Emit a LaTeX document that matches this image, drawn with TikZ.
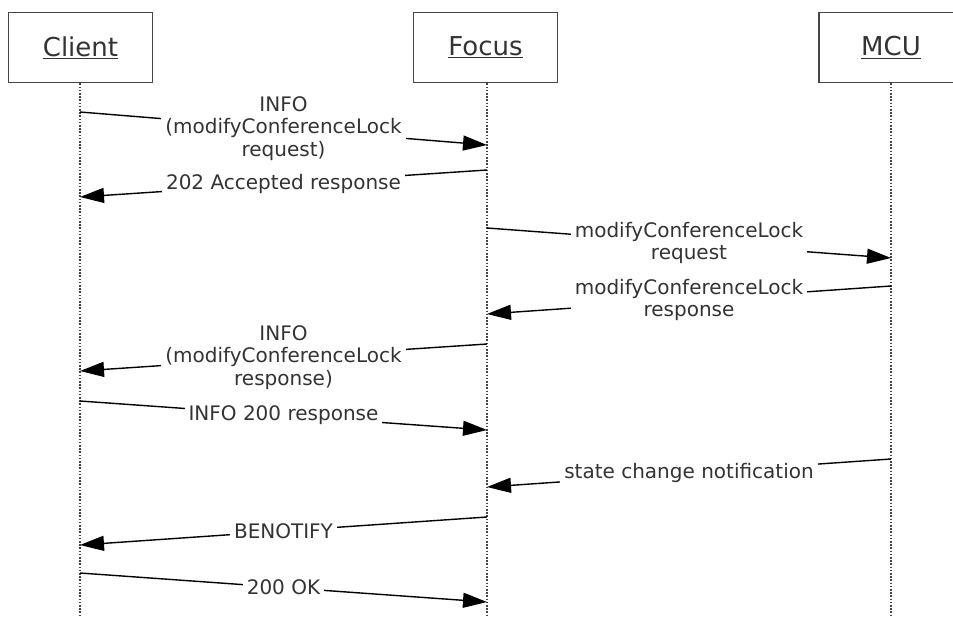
\documentclass[tikz,border=0pt]{standalone}
\usepackage{fontspec}
\setmainfont{DejaVu Sans}
\usetikzlibrary{arrows.meta}
\definecolor{boxgray}{HTML}{454545}
\definecolor{txtgray}{HTML}{333333}
\tikzset{
  actor/.style={draw=boxgray, line width=1.8pt, fill=white,
    minimum width=144pt, minimum height=70pt,
    font=\fontsize{26}{30}\selectfont, text=txtgray},
  lifeline/.style={draw=boxgray, line width=1.6pt, dash pattern=on 1.6pt off 1.6pt},
  msg/.style={line width=1.4pt, -{Triangle[length=24pt,width=15pt]}},
  msglabel/.style={fill=white, inner sep=4pt, align=center, text=txtgray,
    font=\fontsize{20}{22.5}\selectfont},
}

\begin{document}
\begin{tikzpicture}[x=1pt, y=-1pt]
  \useasboundingbox (0,0) rectangle (953,616);
  % participants
  \node[actor] (client) at (80.5,47.5) {\underline{Client}};
  \node[actor] (focus) at (485.5,47.5) {\underline{Focus}};
  \node[actor] (mcu) at (891,47.5) {\underline{MCU}};
  % lifelines
  \coordinate (client end) at (80,616);
  \coordinate (focus end) at (487,616);
  \coordinate (mcu end) at (891,616);
  \draw[lifeline] (client.south -| client end) -- (client end);
  \draw[lifeline] (focus.south -| focus end) -- (focus end);
  \draw[lifeline] (mcu.south -| mcu end) -- (mcu end);
  % points on the lifelines
  \path (client end |- 0,112) coordinate (c1) (focus end |- 0,145) coordinate (f1)
        (focus end |- 0,170) coordinate (f2) (client end |- 0,197) coordinate (c2)
        (focus end |- 0,228) coordinate (f3) (mcu end |- 0,258) coordinate (m3)
        (mcu end |- 0,286) coordinate (m4) (focus end |- 0,314) coordinate (f4)
        (focus end |- 0,344) coordinate (f5) (client end |- 0,371) coordinate (c5)
        (client end |- 0,401) coordinate (c6) (focus end |- 0,430) coordinate (f6)
        (mcu end |- 0,459) coordinate (m7) (focus end |- 0,487) coordinate (f7)
        (focus end |- 0,517) coordinate (f8) (client end |- 0,545) coordinate (c8)
        (client end |- 0,573) coordinate (c9) (focus end |- 0,602) coordinate (f9);
  % messages
  \draw[msg] (c1) -- node[msglabel] {INFO\\(modifyConferenceLock\\request)} (f1);
  \draw[msg] (f2) -- node[msglabel] {202 Accepted response} (c2);
  \draw[msg] (f3) -- node[msglabel] {modifyConferenceLock\\request} (m3);
  \draw[msg] (m4) -- node[msglabel] {modifyConferenceLock\\response} (f4);
  \draw[msg] (f5) -- node[msglabel] {INFO\\(modifyConferenceLock\\response)} (c5);
  \draw[msg] (c6) -- node[msglabel] {INFO 200 response} (f6);
  \draw[msg] (m7) -- node[msglabel] {state change notification} (f7);
  \draw[msg] (f8) -- node[msglabel] {BENOTIFY} (c8);
  \draw[msg] (c9) -- node[msglabel] {200 OK} (f9);
\end{tikzpicture}
\end{document}
